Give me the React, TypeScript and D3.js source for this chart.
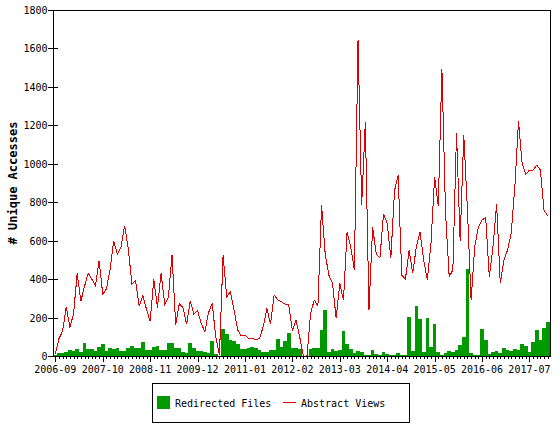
import React from 'react';
import * as d3 from 'd3';

const months: string[] = d3
  .timeMonth.range(new Date(2006, 8, 1), new Date(2018, 0, 1))
  .map(d3.timeFormat('%Y-%m'));

const tickLabels = ['2006-09', '2007-10', '2008-11', '2009-12', '2011-01', '2012-02', '2013-03', '2014-04', '2015-05', '2016-06', '2017-07'];
const yTicks = [0, 200, 400, 600, 800, 1000, 1200, 1400, 1600, 1800];

const redirectedFiles = [
  7, 17, 17, 22, 31, 28, 36, 22, 69, 36,
  36, 28, 48, 62, 28, 43, 35, 43, 28, 28,
  43, 52, 40, 43, 71, 31, 31, 48, 54, 31,
  31, 69, 69, 40, 40, 22, 17, 69, 40, 28,
  26, 22, 17, 78, 9, 0, 139, 116, 81, 78,
  61, 38, 38, 43, 48, 40, 29, 21, 21, 31,
  31, 90, 48, 80, 121, 43, 40, 35, 0, 0,
  38, 43, 40, 137, 241, 22, 38, 24, 33, 128,
  65, 38, 14, 27, 23, 7, 7, 31, 10, 6,
  21, 12, 5, 5, 16, 4, 4, 204, 26, 260,
  192, 19, 196, 47, 166, 21, 5, 14, 26, 21,
  31, 55, 99, 452, 17, 5, 5, 140, 83, 10,
  21, 26, 14, 43, 31, 28, 36, 31, 62, 52,
  21, 75, 135, 83, 144, 177,
];

const abstractViews = [
  10, 90, 130, 257, 148, 220, 430, 285, 362, 431,
  400, 365, 495, 322, 348, 450, 600, 530, 565, 678,
  560, 374, 391, 261, 313, 243, 180, 400, 252, 430,
  270, 304, 525, 160, 272, 252, 165, 287, 217, 235,
  170, 127, 225, 274, 100, 5, 525, 308, 335, 239,
  135, 104, 109, 92, 92, 83, 92, 152, 248, 165,
  317, 291, 282, 270, 265, 130, 187, 100, 0, 0,
  222, 291, 260, 785, 530, 421, 378, 196, 378, 290,
  645, 568, 447, 1643, 785, 1215, 240, 670, 530, 510,
  740, 690, 510, 860, 940, 420, 400, 550, 430, 570,
  645, 500, 395, 585, 932, 780, 1495, 742, 412, 447,
  1160, 600, 1150, 760, 290, 568, 672, 707, 721, 412,
  568, 790, 378, 500, 551, 638, 880, 1220, 1000, 946,
  967, 967, 993, 967, 759, 728,
];

const GREEN = '#009900';
const RED = '#dd0000';
const FONT = '"DejaVu Sans Mono", "Liberation Mono", monospace';

export default function App() {
  const W = 560;
  const H = 435;
  const left = 53.5;
  const right = 550.5;
  const top = 10.5;
  const bottom = 356.5;

  const x = d3.scaleBand<string>().domain(months).range([53.5, 549.5]).paddingInner(0).paddingOuter(0);
  const y = d3.scaleLinear().domain([0, 1800]).range([356, 10]);
  const bw = x.bandwidth();
  const cx = (m: string) => (x(m) as number) + bw / 2;

  const linePath = d3
    .line<number>()
    .x((_, i) => cx(months[i]))
    .y((d) => y(d))(abstractViews) as string;

  return (
    <svg width={W} height={H} style={{ position: 'absolute', left: 0, top: 0, background: '#fff' }} fontFamily={FONT}>
      <rect x={0} y={0} width={W} height={H} fill="#fff" />
      {/* x ticks */}
      {months.map((m, i) => {
        const major = tickLabels.includes(m);
        const tx = Math.round(cx(m)) + 0.5;
        return (
          <line key={'xt' + i} x1={tx} x2={tx} y1={bottom} y2={bottom + (major ? 5 : 2)} stroke="#000" shapeRendering="crispEdges" />
        );
      })}
      {/* bars */}
      {redirectedFiles.map((v, i) => (
        <rect
          key={'b' + i}
          x={x(months[i])}
          y={y(v)}
          width={bw}
          height={y(0) - y(v)}
          fill={GREEN}
          shapeRendering="crispEdges"
        />
      ))}
      {/* line */}
      <path d={linePath} fill="none" stroke={RED} strokeWidth={1} shapeRendering="crispEdges" />
      {/* frame */}
      <rect x={left} y={top} width={right - left} height={bottom - top} fill="none" stroke="#000" shapeRendering="crispEdges" />
      {/* y ticks */}
      {yTicks.map((t) => {
        const ty = Math.round(y(t)) + 0.5;
        return (
          <g key={'yt' + t}>
            <line x1={48} x2={58} y1={ty} y2={ty} stroke="#000" shapeRendering="crispEdges" />
            <text x={47.5} y={ty} dy="0.35em" textAnchor="end" fontSize={10} fill="#000">
              {t}
            </text>
          </g>
        );
      })}
      {/* x labels */}
      {tickLabels.map((m) => (
        <text key={'xl' + m} x={cx(m)} y={373} textAnchor="middle" fontSize={10} fill="#000">
          {m}
        </text>
      ))}
      {/* y title */}
      <text transform="translate(17,183) rotate(-90)" textAnchor="middle" fontSize={12} fontWeight="bold" fill="#000">
        # Unique Accesses
      </text>
      {/* legend */}
      <rect x={152.5} y={383.5} width={257} height={39} fill="none" stroke="#000" shapeRendering="crispEdges" />
      <rect x={157} y={396} width={13} height={13} fill={GREEN} />
      <text x={175} y={407} fontSize={10} fill="#000">Redirected Files</text>
      <line x1={283} x2={296} y1={402.5} y2={402.5} stroke={RED} shapeRendering="crispEdges" />
      <text x={301} y={407} fontSize={10} fill="#000">Abstract Views</text>
    </svg>
  );
}
